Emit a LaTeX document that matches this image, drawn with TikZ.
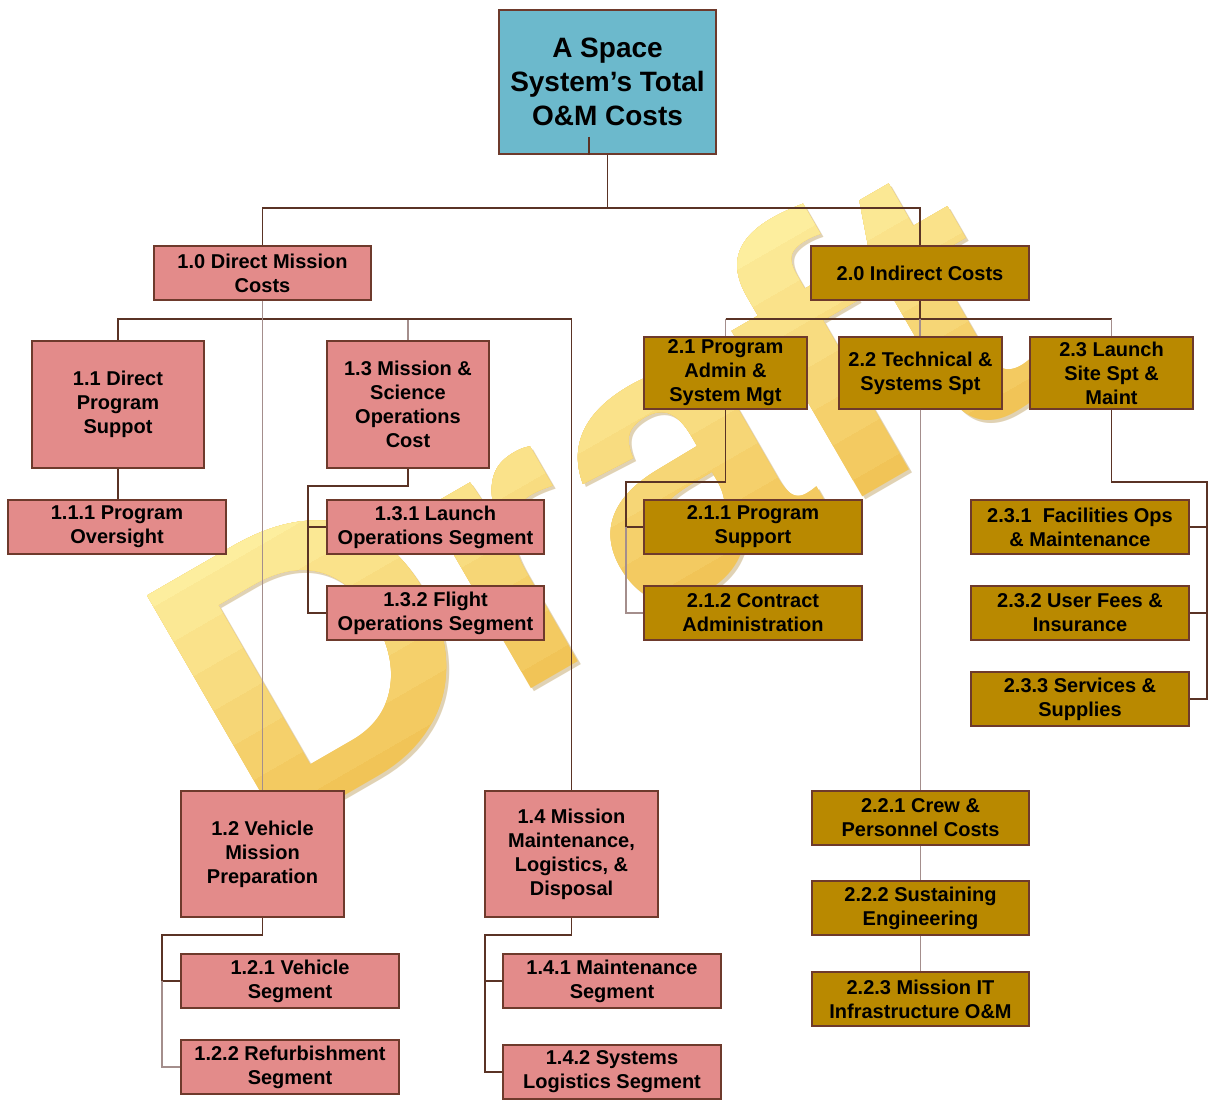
\documentclass[tikz,border=0pt]{standalone}
\usepackage{fontspec}
\setmainfont{Liberation Sans}
\usetikzlibrary{calc}
\definecolor{tealbox}{HTML}{6CB9CC}
\definecolor{pinkbox}{HTML}{E38B8A}
\definecolor{goldbox}{HTML}{B98900}
\definecolor{boxline}{HTML}{6E3A2C}
\definecolor{darklink}{HTML}{5A3325}
\definecolor{lightlink}{HTML}{A48E8C}
\definecolor{draftlight}{HTML}{FDEE9E}
\definecolor{draftdark}{HTML}{F1C457}
\definecolor{draftshadow}{HTML}{C8AE78}
\tikzset{
  sz/.style 2 args={minimum width=#1*0.5pt, minimum height=#2*0.5pt},
  basebox/.style={draw=boxline, line width=0.7pt, inner sep=1pt, align=center,
    font=\fontsize{10}{12}\selectfont\bfseries, text=black},
  pbox/.style={basebox, fill=pinkbox},
  gbox/.style={basebox, fill=goldbox},
  link/.style={draw=darklink, line width=0.7pt},
  linkl/.style={draw=lightlink, line width=0.7pt},
  wmark/.style={anchor=base west, rotate=30, inner sep=0,
    font=\fontsize{197.5}{200}\selectfont\bfseries},
}
\begin{document}
\begin{tikzpicture}[x=0.5pt, y=-0.5pt]
\useasboundingbox (0,0) rectangle (1208,1106);
\fill[white] (0,0) rectangle (1208,1106);
% watermark
\node[wmark, text=draftshadow, opacity=0.55] (wmshadow) at (263,848) {Draft};
\begin{scope}[shift={(260,845)}, rotate=30]
  \node[wmark, text=draftdark] (wm) at (0,0) {Draft};
  \foreach \k in {1,...,7} {
    \begin{scope}
      \clip (-150,{-(\k*40-20)}) rectangle (1300,-450);
      \pgfmathsetmacro\pct{\k*100/7}
      \node[wmark, text=draftlight!\pct!draftdark] (wm\k) at (0,0) {Draft};
    \end{scope}
  }
\end{scope}

% nodes
\node[basebox, fill=tealbox, sz={217}{144}, font=\fontsize{14}{17}\selectfont\bfseries]
  (top) at (607.5,82) {A Space\\System’s Total\\O\&M Costs};
\node[pbox, sz={217}{54}] (n10) at (262.5,273) {1.0 Direct Mission\\Costs};
\node[gbox, sz={218}{54}] (n20) at (920,273) {2.0 Indirect Costs};
\node[pbox, sz={172}{127}] (n11) at (118,404.5) {1.1 Direct\\Program\\Suppot};
\node[pbox, sz={162}{127}] (n13) at (408,404.5) {1.3 Mission \&\\Science\\Operations\\Cost};
\node[pbox, sz={218}{54}] (n111) at (117,527) {1.1.1 Program\\Oversight};
\node[pbox, sz={217}{54}] (n131) at (435.5,527) {1.3.1 Launch\\Operations Segment};
\node[pbox, sz={217}{54}] (n132) at (435.5,613) {1.3.2 Flight\\Operations Segment};
\node[pbox, sz={163}{126}] (n12) at (262.5,854) {1.2 Vehicle\\Mission\\Preparation};
\node[pbox, sz={173}{126}] (n14) at (571.5,854) {1.4 Mission\\Maintenance,\\Logistics, \&\\Disposal};
\node[pbox, sz={218}{54}] (n121) at (290,981) {1.2.1 Vehicle\\Segment};
\node[pbox, sz={218}{54}] (n122) at (290,1067) {1.2.2 Refurbishment\\Segment};
\node[pbox, sz={218}{54}] (n141) at (612,981) {1.4.1 Maintenance\\Segment};
\node[pbox, sz={218}{54}] (n142) at (612,1072) {1.4.2 Systems\\Logistics Segment};
\node[gbox, sz={163}{72}] (n21) at (725.5,373) {2.1 Program\\Admin \&\\System Mgt};
\node[gbox, sz={163}{72}] (n22) at (920.5,373) {2.2 Technical \&\\Systems Spt};
\node[gbox, sz={163}{72}] (n23) at (1111.5,373) {2.3 Launch\\Site Spt \&\\Maint};
\node[gbox, sz={218}{54}] (n211) at (753,527) {2.1.1 Program\\Support};
\node[gbox, sz={218}{54}] (n212) at (753,613) {2.1.2 Contract\\Administration};
\node[gbox, sz={218}{54}] (n231) at (1080,527) {2.3.1\ \ Facilities Ops\\\& Maintenance};
\node[gbox, sz={218}{54}] (n232) at (1080,613) {2.3.2 User Fees \&\\Insurance};
\node[gbox, sz={218}{54}] (n233) at (1080,699) {2.3.3 Services \&\\Supplies};
\node[gbox, sz={217}{54}] (n221) at (920.5,818) {2.2.1 Crew \&\\Personnel Costs};
\node[gbox, sz={217}{54}] (n222) at (920.5,908) {2.2.2 Sustaining\\Engineering};
\node[gbox, sz={217}{54}] (n223) at (920.5,999) {2.2.3 Mission IT\\Infrastructure O\&M};

% branch points
\coordinate (b0) at (607.5,208);
\coordinate (b1) at (262.5,319);
\coordinate (b2) at (920,319);
\coordinate (b13) at (308,486);
\coordinate (b12) at (162,935);
\coordinate (b14) at (485,935);
\coordinate (b21) at (626,482);
\coordinate (b23) at (1207,482);
\coordinate (tick) at (589,137);

% connectors
\draw[link] (top.south) -- (b0) -| (n10.north);
\draw[link] (b0) -| (n20.north);
\draw[link] (tick) -- (tick |- top.south);

\draw[link] (n10.south) -- (b1) -| (n11.north);
\draw[linkl] (b1) -| (n13.north);
\draw[link] (b1) -| (n14.north);
\draw[linkl] (n10.south) -- (n12.north);
\draw[link] (n11.south) -- (n11.south |- n111.north);

\draw[link] (n13.south) |- (b13) |- (n131.west);
\draw[link] (b13) |- (n132.west);

\draw[link] (n12.south) |- (b12) |- (n121.west);
\draw[linkl] (b12 |- n121.west) |- (n122.west);
\draw[link] (n14.south) |- (b14) |- (n141.west);
\draw[link] (b14) |- (n142.west);

\draw[link] (n20.south) -- (b2);
\draw[link] (n21.north |- b2) -- (n23.north |- b2);
\draw[linkl] (n21.north |- b2) -- (n21.north);
\draw[linkl] (n23.north |- b2) -- (n23.north);
\draw[linkl] (b2) -- (b2 |- n22.north);
\draw[linkl] (n22.south) -- (n221.north);
\draw[linkl] (n221.south) -- (n222.north);
\draw[linkl] (n222.south) -- (n223.north);

\draw[link] (n21.south) |- (b21) |- (n211.west);
\draw[linkl] (b21 |- n211.west) |- (n212.west);
\draw[link] (n23.south) |- (b23) |- (n233.east);
\draw[link] (b23) |- (n231.east);
\draw[link] (b23) |- (n232.east);
\end{tikzpicture}
\end{document}
